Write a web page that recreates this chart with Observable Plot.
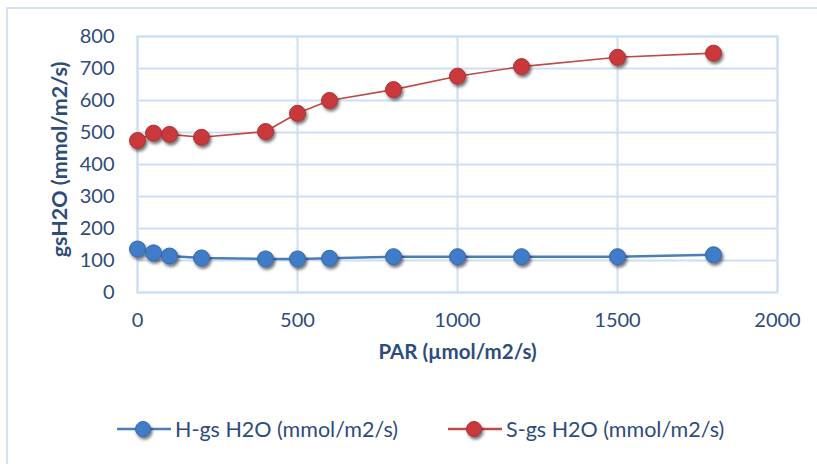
<!DOCTYPE html>
<html>
<head>
<meta charset="utf-8">
<script src="https://cdn.jsdelivr.net/npm/d3@7"></script>
<script src="https://cdn.jsdelivr.net/npm/@observablehq/plot@0.6"></script>
<style>
  html, body { margin: 0; padding: 0; background: #fff; }
  #wrap { position: relative; width: 817px; height: 464px; overflow: hidden; font-family: Lato, "Open Sans", sans-serif; }
  #border { position: absolute; left: 6px; top: 7px; width: 900px; height: 600px; border: 2px solid #d3e2f4; box-sizing: border-box; }
  #chart { position: absolute; left: 0; top: 0; }
  #legend { position: absolute; left: 0; top: 416px; width: 817px; }
  .item { position: absolute; display: flex; align-items: center; font-size: 21.5px; color: #2d4c7c; white-space: nowrap; }
  .item svg { margin-right: 4px; }
  [aria-label="y-axis tick label"] text, [aria-label="x-axis tick label"] text { fill: #2d4c7c; }
</style>
</head>
<body>
<div id="wrap">
  <div id="border"></div>
  <div id="chart"></div>
  <div id="legend"></div>
</div>
<script>
// Data
const par = [0, 50, 100, 200, 400, 500, 600, 800, 1000, 1200, 1500, 1800];
const hGs = [136, 124, 114, 108, 105, 105, 107, 112, 112, 112, 112, 118];
const sGs = [475, 498, 494, 485, 503, 560, 600, 634, 676, 706, 735, 748];
const seriesNames = ["H-gs H2O (mmol/m2/s)", "S-gs H2O (mmol/m2/s)"];
const xTicks = [0, 500, 1000, 1500, 2000];
const yTicks = [0, 100, 200, 300, 400, 500, 600, 700, 800];
const xTitle = "PAR (µmol/m2/s)";
const yTitle = "gsH2O (mmol/m2/s)";

const lineColors = ["#4a7ebb", "#be4b48"];
const dotFill = ["#3f7cc8", "#c9393b"];
const dotStroke = ["#3468ab", "#ab2f31"];

const rows = [];
par.forEach((p, i) => {
  rows.push({par: p, gs: hGs[i], s: seriesNames[0]});
  rows.push({par: p, gs: sGs[i], s: seriesNames[1]});
});
const hRows = rows.filter(d => d.s === seriesNames[0]);
const sRows = rows.filter(d => d.s === seriesNames[1]);

const gridColor = "#cddff3";
const textColor = "#2d4c7c";

const plot = Plot.plot({
  width: 817,
  height: 378,
  marginLeft: 137,
  marginRight: 40,
  marginTop: 36,
  marginBottom: 86,
  style: {fontFamily: "Lato, 'Open Sans', sans-serif", fontSize: "20px", color: textColor, background: "transparent"},
  x: {domain: [0, 2000], ticks: xTicks},
  y: {domain: [0, 800], ticks: yTicks},
  marks: [
    Plot.gridX(xTicks, {stroke: gridColor, strokeOpacity: 1, strokeWidth: 2}),
    Plot.gridY(yTicks, {stroke: gridColor, strokeOpacity: 1, strokeWidth: 2}),
    Plot.frame({stroke: gridColor, strokeWidth: 2}),
    Plot.axisX({ticks: xTicks, tickSize: 0, tickPadding: 20, label: null, fontSize: 20, tickFormat: d3.format("d")}),
    Plot.axisY({ticks: yTicks, tickSize: 0, tickPadding: 23, label: null, fontSize: 20, tickFormat: d3.format("d")}),
    Plot.text([xTitle], {frameAnchor: "bottom", dy: 66, fontWeight: "bold", fontSize: 20.5, fill: textColor}),
    Plot.text([yTitle], {frameAnchor: "left", textAnchor: "middle", dx: -77, dy: -5, rotate: -90, fontWeight: "bold", fontSize: 21.5, fill: textColor}),
    Plot.line(hRows, {x: "par", y: "gs", stroke: lineColors[0], strokeWidth: 2.5}),
    Plot.line(sRows, {x: "par", y: "gs", stroke: lineColors[1], strokeWidth: 1.6}),
    Plot.dot(hRows, {x: "par", y: "gs", r: 8, fill: dotFill[0], stroke: dotStroke[0], strokeWidth: 1}),
    Plot.dot(sRows, {x: "par", y: "gs", r: 8, fill: dotFill[1], stroke: dotStroke[1], strokeWidth: 1})
  ]
});

// drop shadow filter for markers
const ns = "http://www.w3.org/2000/svg";
const defs = document.createElementNS(ns, "defs");
defs.innerHTML = '<filter id="shadow" x="-50%" y="-50%" width="200%" height="200%"><feDropShadow dx="1.5" dy="2.5" stdDeviation="1.6" flood-color="#000" flood-opacity="0.55"/></filter>';
plot.insertBefore(defs, plot.firstChild);
plot.querySelectorAll('[aria-label="dot"]').forEach(g => g.setAttribute("filter", "url(#shadow)"));

document.getElementById("chart").appendChild(plot);

// Legend
const legend = document.getElementById("legend");
const lefts = [117, 448];
seriesNames.forEach((name, i) => {
  const item = document.createElement("div");
  item.className = "item";
  item.style.left = lefts[i] + "px";
  item.innerHTML = `<svg width="54" height="20" overflow="visible">
    <line x1="0" x2="54" y1="10" y2="10" stroke="${lineColors[i]}" stroke-width="2.5"/>
    <circle cx="26" cy="10" r="7.5" fill="${dotFill[i]}" stroke="${dotStroke[i]}" stroke-width="1" filter="url(#shadow)"/>
  </svg><span>${name}</span>`;
  legend.appendChild(item);
});
</script>
</body>
</html>
